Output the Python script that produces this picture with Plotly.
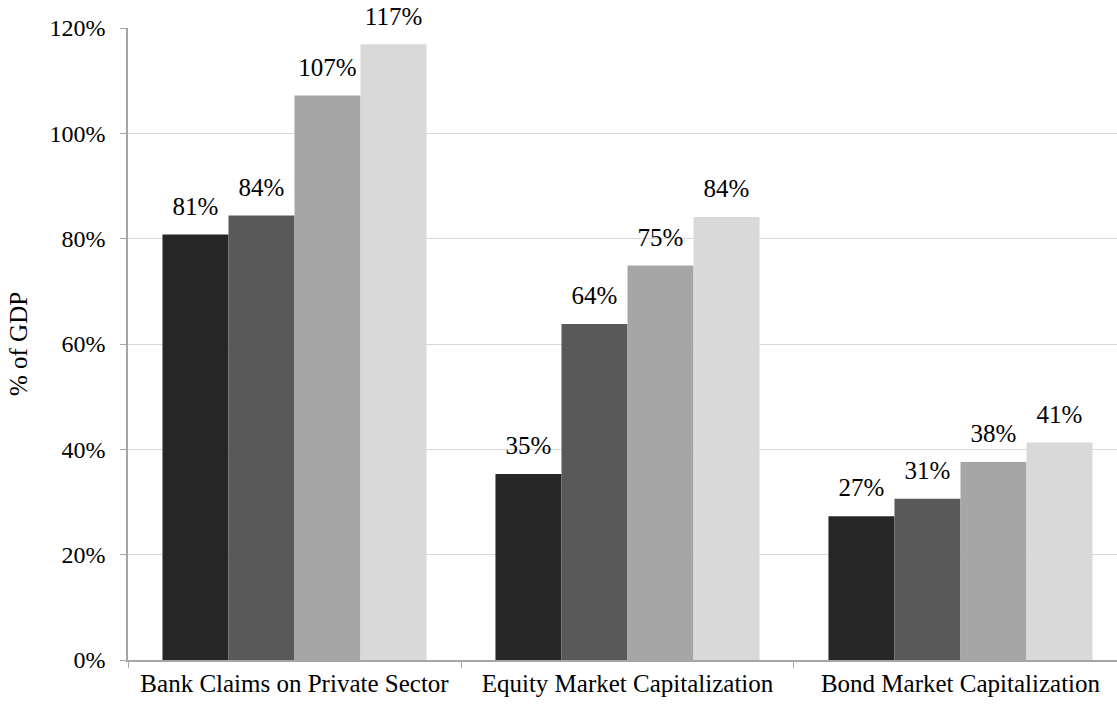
import plotly.graph_objects as go

categories = ["Bank Claims on Private Sector", "Equity Market Capitalization", "Bond Market Capitalization"]
series_names = ["Series 1", "Series 2", "Series 3", "Series 4"]
series_values = [
    [80.8, 35.3, 27.3],
    [84.4, 63.8, 30.6],
    [107.2, 74.9, 37.6],
    [116.9, 84.1, 41.3],
]
series_colors = ["#262626", "#595959", "#a6a6a6", "#d9d9d9"]
y_ticks = [0, 20, 40, 60, 80, 100, 120]
y_tick_text = [f"{v}%" for v in y_ticks]

FONT = "Liberation Serif, serif"

fig = go.Figure()
for i, (name, vals, col) in enumerate(zip(series_names, series_values, series_colors)):
    fig.add_trace(go.Bar(
        x=categories, y=vals, name=name, offsetgroup=str(i),
        marker=dict(color=col, line=dict(width=0)),
    ))
for i, (name, vals) in enumerate(zip(series_names, series_values)):
    fig.add_trace(go.Scatter(
        x=categories, y=vals, name=name + " labels", offsetgroup=str(i),
        mode="markers+text", text=[f"{v:.0f}%" for v in vals],
        textposition="top center", cliponaxis=False,
        marker=dict(size=20, opacity=0, color="white"),
        textfont=dict(family=FONT, size=25, color="#000000"),
        hoverinfo="skip",
    ))

fig.update_layout(
    width=1117, height=709,
    margin=dict(l=128, r=0, t=28, b=49),
    paper_bgcolor="white", plot_bgcolor="white",
    barmode="group", bargap=0.207, bargroupgap=0,
    scattermode="group", scattergap=0.207,
    showlegend=False,
    font=dict(family=FONT, size=24, color="#000000"),
)
fig.update_xaxes(
    type="category", range=[-0.5, 2.47],
    showline=True, linecolor="#a6a6a6", linewidth=1.5,
    ticks="outside", tickson="boundaries", ticklen=6, tickcolor="#a6a6a6",
    showgrid=False, tickfont=dict(family=FONT, size=25),
)
fig.update_yaxes(
    range=[0, 120], tickvals=y_ticks, ticktext=y_tick_text,
    showline=True, linecolor="#a6a6a6", linewidth=1.5,
    ticks="outside", ticklen=6, tickcolor="#a6a6a6", ticklabelstandoff=10,
    showgrid=True, gridcolor="#d9d9d9", gridwidth=1.2, zeroline=False,
    tickfont=dict(family=FONT, size=24),
    title=dict(text="% of GDP", font=dict(family=FONT, size=25), standoff=15),
)

fig.write_html("out.html", config={"displayModeBar": False},
               post_script="document.body.style.margin='0';")
